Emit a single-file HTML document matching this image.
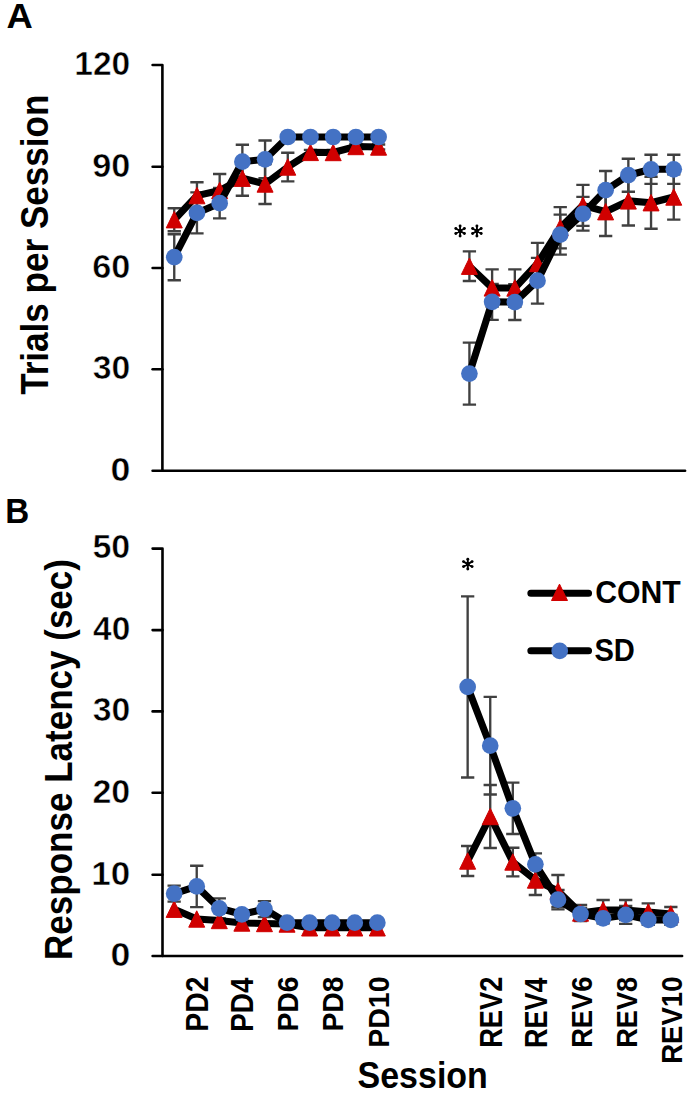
<!DOCTYPE html>
<html><head><meta charset="utf-8"><title>Chart</title>
<style>
html,body{margin:0;padding:0;background:#fff;}
body{width:700px;height:1094px;overflow:hidden;}
svg{display:block;}
.t{font-family:"Liberation Sans",sans-serif;font-weight:bold;fill:#000;}
.tn{stroke:#fff;stroke-width:0.5px;}
</style></head><body>
<svg width="700" height="1094" viewBox="0 0 700 1094">
<rect width="700" height="1094" fill="#fff"/>
<path d="M152.6 65H162.4V470.7H685.1" stroke="#000" stroke-width="2.6" fill="none" stroke-linejoin="round" stroke-linecap="round"/>
<path d="M152.6 166.7H162.4" stroke="#000" stroke-width="2.6" stroke-linecap="round"/>
<path d="M152.6 268H162.4" stroke="#000" stroke-width="2.6" stroke-linecap="round"/>
<path d="M152.6 369.3H162.4" stroke="#000" stroke-width="2.6" stroke-linecap="round"/>
<path d="M152.6 470.7H162.4" stroke="#000" stroke-width="2.6" stroke-linecap="round"/>
<path d="M152.6 548.6H162.5V956H682.1" stroke="#000" stroke-width="2.6" fill="none" stroke-linejoin="round" stroke-linecap="round"/>
<path d="M152.6 630.1H162.5" stroke="#000" stroke-width="2.6" stroke-linecap="round"/>
<path d="M152.6 711.4H162.5" stroke="#000" stroke-width="2.6" stroke-linecap="round"/>
<path d="M152.6 792.8H162.5" stroke="#000" stroke-width="2.6" stroke-linecap="round"/>
<path d="M152.6 874.7H162.5" stroke="#000" stroke-width="2.6" stroke-linecap="round"/>
<path d="M152.6 956H162.5" stroke="#000" stroke-width="2.6" stroke-linecap="round"/>
<text transform="translate(6.49 27.5) scale(1.0125 0.9939)" font-size="36" class="t">A</text>
<text transform="translate(5.37 522.5) scale(0.9488 1.0125)" font-size="35" class="t">B</text>
<text transform="translate(74.24 74.85) scale(1.0505 1.0318)" font-size="32" class="t tn">120</text>
<text transform="translate(92.19 176.55) scale(1.0708 1.0318)" font-size="32" class="t tn">90</text>
<text transform="translate(92.19 277.85) scale(1.0708 1.0318)" font-size="32" class="t tn">60</text>
<text transform="translate(92.75 379.15) scale(1.0545 1.0318)" font-size="32" class="t tn">30</text>
<text transform="translate(110.42 480.55) scale(1.1186 1.0318)" font-size="32" class="t tn">0</text>
<text transform="translate(92.47 558.45) scale(1.0626 1.0318)" font-size="32" class="t tn">50</text>
<text transform="translate(93.02 639.95) scale(1.0466 1.0318)" font-size="32" class="t tn">40</text>
<text transform="translate(92.75 721.25) scale(1.0545 1.0318)" font-size="32" class="t tn">30</text>
<text transform="translate(92.47 802.65) scale(1.0626 1.0318)" font-size="32" class="t tn">20</text>
<text transform="translate(91.33 884.55) scale(1.0961 1.0318)" font-size="32" class="t tn">10</text>
<text transform="translate(110.42 965.85) scale(1.1186 1.0318)" font-size="32" class="t tn">0</text>
<text transform="translate(48.35 394.76) rotate(-90) scale(0.9231 1.0128)" font-size="38" class="t">Trials per Session</text>
<text transform="translate(71.7 960) rotate(-90) scale(0.9219 1.0326)" font-size="38" class="t">Response Latency (sec)</text>
<text transform="translate(595.16 602.65) scale(0.9900 1.0000)" font-size="30.5" class="t">CONT</text>
<text transform="translate(594.44 661.44) scale(0.9550 1.0372)" font-size="30.5" class="t">SD</text>
<text transform="translate(357.56 1088.14) scale(0.9440 1.0476)" font-size="36" class="t">Session</text>
<text transform="translate(208.13 1031.63) rotate(-90) scale(0.9158 0.9907)" font-size="31" class="t">PD2</text>
<text transform="translate(253.3 1031.7) rotate(-90) scale(0.8979 1.0024)" font-size="31" class="t">PD4</text>
<text transform="translate(298.23 1031.62) rotate(-90) scale(0.9118 0.9793)" font-size="31" class="t">PD6</text>
<text transform="translate(343.41 1031.62) rotate(-90) scale(0.9118 0.9793)" font-size="31" class="t">PD8</text>
<text transform="translate(388.58 1047.74) rotate(-90) scale(0.9199 0.9793)" font-size="31" class="t">PD10</text>
<text transform="translate(501.76 1047.86) rotate(-90) scale(0.8810 0.9907)" font-size="31" class="t">REV2</text>
<text transform="translate(546.93 1047.94) rotate(-90) scale(0.8711 1.0024)" font-size="31" class="t">REV4</text>
<text transform="translate(591.86 1047.86) rotate(-90) scale(0.8810 0.9793)" font-size="31" class="t">REV6</text>
<text transform="translate(637.04 1047.86) rotate(-90) scale(0.8782 0.9793)" font-size="31" class="t">REV8</text>
<text transform="translate(682.21 1063.78) rotate(-90) scale(0.8884 0.9793)" font-size="31" class="t">REV10</text>
<path d="M174.25 208.2V231.2M167.6 208.2H180.9M167.6 231.2H180.9" stroke="#404040" stroke-width="2.35" fill="none"/>
<path d="M196.95 182.2V209M190.3 182.2H203.6M190.3 209H203.6" stroke="#404040" stroke-width="2.35" fill="none"/>
<path d="M219.66 174V207M213.01 174H226.31M213.01 207H226.31" stroke="#404040" stroke-width="2.35" fill="none"/>
<path d="M242.37 160.7V195.7M235.72 160.7H249.02M235.72 195.7H249.02" stroke="#404040" stroke-width="2.35" fill="none"/>
<path d="M265.07 164V204M258.42 164H271.72M258.42 204H271.72" stroke="#404040" stroke-width="2.35" fill="none"/>
<path d="M287.77 152.7V181.3M281.12 152.7H294.42M281.12 181.3H294.42" stroke="#404040" stroke-width="2.35" fill="none"/>
<path d="M310.48 149.9V154.9M303.83 149.9H317.13M303.83 154.9H317.13" stroke="#404040" stroke-width="2.35" fill="none"/>
<path d="M333.19 150V155M326.54 150H339.83M326.54 155H339.83" stroke="#404040" stroke-width="2.35" fill="none"/>
<path d="M355.89 144V149M349.24 144H362.54M349.24 149H362.54" stroke="#404040" stroke-width="2.35" fill="none"/>
<path d="M378.59 144.5V149.5M371.94 144.5H385.24M371.94 149.5H385.24" stroke="#404040" stroke-width="2.35" fill="none"/>
<path d="M469.41 251.4V281M462.76 251.4H476.06M462.76 281H476.06" stroke="#404040" stroke-width="2.35" fill="none"/>
<path d="M492.12 269.3V306.5M485.47 269.3H498.77M485.47 306.5H498.77" stroke="#404040" stroke-width="2.35" fill="none"/>
<path d="M514.83 269.3V306.7M508.18 269.3H521.48M508.18 306.7H521.48" stroke="#404040" stroke-width="2.35" fill="none"/>
<path d="M537.53 242.9V284.1M530.88 242.9H544.18M530.88 284.1H544.18" stroke="#404040" stroke-width="2.35" fill="none"/>
<path d="M560.23 207.1V248.3M553.58 207.1H566.88M553.58 248.3H566.88" stroke="#404040" stroke-width="2.35" fill="none"/>
<path d="M582.94 184.9V225.9M576.29 184.9H589.59M576.29 225.9H589.59" stroke="#404040" stroke-width="2.35" fill="none"/>
<path d="M605.64 187.4V236M599 187.4H612.29M599 236H612.29" stroke="#404040" stroke-width="2.35" fill="none"/>
<path d="M628.35 176.3V225.5M621.7 176.3H635M621.7 225.5H635" stroke="#404040" stroke-width="2.35" fill="none"/>
<path d="M651.05 176.7V228.7M644.4 176.7H657.7M644.4 228.7H657.7" stroke="#404040" stroke-width="2.35" fill="none"/>
<path d="M673.76 174.4V219.6M667.11 174.4H680.41M667.11 219.6H680.41" stroke="#404040" stroke-width="2.35" fill="none"/>
<path d="M174.25 234.2V280.2M167.6 234.2H180.9M167.6 280.2H180.9" stroke="#404040" stroke-width="2.35" fill="none"/>
<path d="M196.95 192.4V233.4M190.3 192.4H203.6M190.3 233.4H203.6" stroke="#404040" stroke-width="2.35" fill="none"/>
<path d="M219.66 188V218.4M213.01 188H226.31M213.01 218.4H226.31" stroke="#404040" stroke-width="2.35" fill="none"/>
<path d="M242.37 144.7V178.7M235.72 144.7H249.02M235.72 178.7H249.02" stroke="#404040" stroke-width="2.35" fill="none"/>
<path d="M265.07 140.5V178.1M258.42 140.5H271.72M258.42 178.1H271.72" stroke="#404040" stroke-width="2.35" fill="none"/>
<path d="M287.77 133V141M281.12 133H294.42M281.12 141H294.42" stroke="#404040" stroke-width="2.35" fill="none"/>
<path d="M310.48 135V139M303.83 135H317.13M303.83 139H317.13" stroke="#404040" stroke-width="2.35" fill="none"/>
<path d="M333.19 135V139M326.54 135H339.83M326.54 139H339.83" stroke="#404040" stroke-width="2.35" fill="none"/>
<path d="M355.89 135V139M349.24 135H362.54M349.24 139H362.54" stroke="#404040" stroke-width="2.35" fill="none"/>
<path d="M378.59 135V139M371.94 135H385.24M371.94 139H385.24" stroke="#404040" stroke-width="2.35" fill="none"/>
<path d="M469.41 342.6V404.6M462.76 342.6H476.06M462.76 404.6H476.06" stroke="#404040" stroke-width="2.35" fill="none"/>
<path d="M492.12 283.8V319.8M485.47 283.8H498.77M485.47 319.8H498.77" stroke="#404040" stroke-width="2.35" fill="none"/>
<path d="M514.83 284.2V320M508.18 284.2H521.48M508.18 320H521.48" stroke="#404040" stroke-width="2.35" fill="none"/>
<path d="M537.53 257.8V303.6M530.88 257.8H544.18M530.88 303.6H544.18" stroke="#404040" stroke-width="2.35" fill="none"/>
<path d="M560.23 214.6V254.6M553.58 214.6H566.88M553.58 254.6H566.88" stroke="#404040" stroke-width="2.35" fill="none"/>
<path d="M582.94 196.85V230.65M576.29 196.85H589.59M576.29 230.65H589.59" stroke="#404040" stroke-width="2.35" fill="none"/>
<path d="M605.64 171V209.4M599 171H612.29M599 209.4H612.29" stroke="#404040" stroke-width="2.35" fill="none"/>
<path d="M628.35 158.7V191.7M621.7 158.7H635M621.7 191.7H635" stroke="#404040" stroke-width="2.35" fill="none"/>
<path d="M651.05 154.7V183.9M644.4 154.7H657.7M644.4 183.9H657.7" stroke="#404040" stroke-width="2.35" fill="none"/>
<path d="M673.76 154.7V183.9M667.11 154.7H680.41M667.11 183.9H680.41" stroke="#404040" stroke-width="2.35" fill="none"/>
<path d="M174.25 219.7 L196.95 195.6 L219.66 190.5 L242.37 178.2 L265.07 184 L287.77 167 L310.48 152.4 L333.19 152.5 L355.89 146.5 L378.59 147M469.41 266.2 L492.12 287.9 L514.83 288 L537.53 263.5 L560.23 227.7 L582.94 205.4 L605.64 211.7 L628.35 200.9 L651.05 202.7 L673.76 197" stroke="#000" stroke-width="7.1" fill="none" stroke-linejoin="round" stroke-linecap="round"/>
<path d="M166.25 227.9L182.25 227.9L174.25 211.5Z" fill="#D00000" stroke="#D00000" stroke-width="1" stroke-linejoin="round"/>
<path d="M188.95 203.8L204.95 203.8L196.95 187.4Z" fill="#D00000" stroke="#D00000" stroke-width="1" stroke-linejoin="round"/>
<path d="M211.66 198.7L227.66 198.7L219.66 182.3Z" fill="#D00000" stroke="#D00000" stroke-width="1" stroke-linejoin="round"/>
<path d="M234.37 186.4L250.37 186.4L242.37 170Z" fill="#D00000" stroke="#D00000" stroke-width="1" stroke-linejoin="round"/>
<path d="M257.07 192.2L273.07 192.2L265.07 175.8Z" fill="#D00000" stroke="#D00000" stroke-width="1" stroke-linejoin="round"/>
<path d="M279.77 175.2L295.77 175.2L287.77 158.8Z" fill="#D00000" stroke="#D00000" stroke-width="1" stroke-linejoin="round"/>
<path d="M302.48 160.6L318.48 160.6L310.48 144.2Z" fill="#D00000" stroke="#D00000" stroke-width="1" stroke-linejoin="round"/>
<path d="M325.19 160.7L341.19 160.7L333.19 144.3Z" fill="#D00000" stroke="#D00000" stroke-width="1" stroke-linejoin="round"/>
<path d="M347.89 154.7L363.89 154.7L355.89 138.3Z" fill="#D00000" stroke="#D00000" stroke-width="1" stroke-linejoin="round"/>
<path d="M370.59 155.2L386.59 155.2L378.59 138.8Z" fill="#D00000" stroke="#D00000" stroke-width="1" stroke-linejoin="round"/>
<path d="M461.41 274.4L477.41 274.4L469.41 258Z" fill="#D00000" stroke="#D00000" stroke-width="1" stroke-linejoin="round"/>
<path d="M484.12 296.1L500.12 296.1L492.12 279.7Z" fill="#D00000" stroke="#D00000" stroke-width="1" stroke-linejoin="round"/>
<path d="M506.83 296.2L522.83 296.2L514.83 279.8Z" fill="#D00000" stroke="#D00000" stroke-width="1" stroke-linejoin="round"/>
<path d="M529.53 271.7L545.53 271.7L537.53 255.3Z" fill="#D00000" stroke="#D00000" stroke-width="1" stroke-linejoin="round"/>
<path d="M552.23 235.9L568.23 235.9L560.23 219.5Z" fill="#D00000" stroke="#D00000" stroke-width="1" stroke-linejoin="round"/>
<path d="M574.94 213.6L590.94 213.6L582.94 197.2Z" fill="#D00000" stroke="#D00000" stroke-width="1" stroke-linejoin="round"/>
<path d="M597.64 219.9L613.64 219.9L605.64 203.5Z" fill="#D00000" stroke="#D00000" stroke-width="1" stroke-linejoin="round"/>
<path d="M620.35 209.1L636.35 209.1L628.35 192.7Z" fill="#D00000" stroke="#D00000" stroke-width="1" stroke-linejoin="round"/>
<path d="M643.05 210.9L659.05 210.9L651.05 194.5Z" fill="#D00000" stroke="#D00000" stroke-width="1" stroke-linejoin="round"/>
<path d="M665.76 205.2L681.76 205.2L673.76 188.8Z" fill="#D00000" stroke="#D00000" stroke-width="1" stroke-linejoin="round"/>
<path d="M174.25 257.2 L196.95 212.9 L219.66 203.2 L242.37 161.7 L265.07 159.3 L287.77 137 L310.48 137 L333.19 137 L355.89 137 L378.59 137M469.41 373.6 L492.12 301.8 L514.83 302.1 L537.53 280.7 L560.23 234.6 L582.94 213.75 L605.64 190.2 L628.35 175.2 L651.05 169.3 L673.76 169.3" stroke="#000" stroke-width="7.1" fill="none" stroke-linejoin="round" stroke-linecap="round"/>
<circle cx="174.25" cy="257.2" r="8.35" fill="#4472C4"/>
<circle cx="196.95" cy="212.9" r="8.35" fill="#4472C4"/>
<circle cx="219.66" cy="203.2" r="8.35" fill="#4472C4"/>
<circle cx="242.37" cy="161.7" r="8.35" fill="#4472C4"/>
<circle cx="265.07" cy="159.3" r="8.35" fill="#4472C4"/>
<circle cx="287.77" cy="137" r="8.35" fill="#4472C4"/>
<circle cx="310.48" cy="137" r="8.35" fill="#4472C4"/>
<circle cx="333.19" cy="137" r="8.35" fill="#4472C4"/>
<circle cx="355.89" cy="137" r="8.35" fill="#4472C4"/>
<circle cx="378.59" cy="137" r="8.35" fill="#4472C4"/>
<circle cx="469.41" cy="373.6" r="8.35" fill="#4472C4"/>
<circle cx="492.12" cy="301.8" r="8.35" fill="#4472C4"/>
<circle cx="514.83" cy="302.1" r="8.35" fill="#4472C4"/>
<circle cx="537.53" cy="280.7" r="8.35" fill="#4472C4"/>
<circle cx="560.23" cy="234.6" r="8.35" fill="#4472C4"/>
<circle cx="582.94" cy="213.75" r="8.35" fill="#4472C4"/>
<circle cx="605.64" cy="190.2" r="8.35" fill="#4472C4"/>
<circle cx="628.35" cy="175.2" r="8.35" fill="#4472C4"/>
<circle cx="651.05" cy="169.3" r="8.35" fill="#4472C4"/>
<circle cx="673.76" cy="169.3" r="8.35" fill="#4472C4"/>










<path d="M467.65 846V876M461 846H474.3M461 876H474.3" stroke="#404040" stroke-width="2.35" fill="none"/>
<path d="M490.23 785V848M483.58 785H496.88M483.58 848H496.88" stroke="#404040" stroke-width="2.35" fill="none"/>
<path d="M512.81 847.7V876.3M506.16 847.7H519.46M506.16 876.3H519.46" stroke="#404040" stroke-width="2.35" fill="none"/>
<path d="M535.38 865V895M528.73 865H542.03M528.73 895H542.03" stroke="#404040" stroke-width="2.35" fill="none"/>
<path d="M557.96 875V907M551.31 875H564.61M551.31 907H564.61" stroke="#404040" stroke-width="2.35" fill="none"/>
<path d="M580.54 905V921M573.89 905H587.19M573.89 921H587.19" stroke="#404040" stroke-width="2.35" fill="none"/>
<path d="M603.11 900V920M596.46 900H609.76M596.46 920H609.76" stroke="#404040" stroke-width="2.35" fill="none"/>
<path d="M625.69 900V920M619.04 900H632.34M619.04 920H632.34" stroke="#404040" stroke-width="2.35" fill="none"/>
<path d="M648.27 903.4V920.6M641.62 903.4H654.92M641.62 920.6H654.92" stroke="#404040" stroke-width="2.35" fill="none"/>
<path d="M670.84 907V921M664.19 907H677.49M664.19 921H677.49" stroke="#404040" stroke-width="2.35" fill="none"/>
<path d="M174.15 885.6V901.6M167.5 885.6H180.8M167.5 901.6H180.8" stroke="#404040" stroke-width="2.35" fill="none"/>
<path d="M196.73 865.7V907.1M190.08 865.7H203.38M190.08 907.1H203.38" stroke="#404040" stroke-width="2.35" fill="none"/>
<path d="M219.3 898.3V918.3M212.65 898.3H225.95M212.65 918.3H225.95" stroke="#404040" stroke-width="2.35" fill="none"/>
<path d="M241.88 910.3V918.3M235.23 910.3H248.53M235.23 918.3H248.53" stroke="#404040" stroke-width="2.35" fill="none"/>
<path d="M264.46 901.1V917.1M257.81 901.1H271.11M257.81 917.1H271.11" stroke="#404040" stroke-width="2.35" fill="none"/>
<path d="M287.04 920.7V924.7M280.39 920.7H293.69M280.39 924.7H293.69" stroke="#404040" stroke-width="2.35" fill="none"/>
<path d="M309.61 920.7V924.7M302.96 920.7H316.26M302.96 924.7H316.26" stroke="#404040" stroke-width="2.35" fill="none"/>
<path d="M332.19 920.7V924.7M325.54 920.7H338.84M325.54 924.7H338.84" stroke="#404040" stroke-width="2.35" fill="none"/>
<path d="M354.77 920.7V924.7M348.12 920.7H361.42M348.12 924.7H361.42" stroke="#404040" stroke-width="2.35" fill="none"/>
<path d="M377.34 920.7V924.7M370.69 920.7H383.99M370.69 924.7H383.99" stroke="#404040" stroke-width="2.35" fill="none"/>
<path d="M467.65 596.3V777.5M461 596.3H474.3M461 777.5H474.3" stroke="#404040" stroke-width="2.35" fill="none"/>
<path d="M490.23 696.9V794.5M483.58 696.9H496.88M483.58 794.5H496.88" stroke="#404040" stroke-width="2.35" fill="none"/>
<path d="M512.81 782.6V834M506.16 782.6H519.46M506.16 834H519.46" stroke="#404040" stroke-width="2.35" fill="none"/>
<path d="M535.38 853.4V875.2M528.73 853.4H542.03M528.73 875.2H542.03" stroke="#404040" stroke-width="2.35" fill="none"/>
<path d="M557.96 890V909.4M551.31 890H564.61M551.31 909.4H564.61" stroke="#404040" stroke-width="2.35" fill="none"/>
<path d="M580.54 908V920M573.89 908H587.19M573.89 920H587.19" stroke="#404040" stroke-width="2.35" fill="none"/>
<path d="M603.11 913.3V923.3M596.46 913.3H609.76M596.46 923.3H609.76" stroke="#404040" stroke-width="2.35" fill="none"/>
<path d="M625.69 905.9V923.9M619.04 905.9H632.34M619.04 923.9H632.34" stroke="#404040" stroke-width="2.35" fill="none"/>
<path d="M648.27 914.9V924.9M641.62 914.9H654.92M641.62 924.9H654.92" stroke="#404040" stroke-width="2.35" fill="none"/>
<path d="M670.84 914.9V924.9M664.19 914.9H677.49M664.19 924.9H677.49" stroke="#404040" stroke-width="2.35" fill="none"/>
<path d="M174.15 909.2 L196.73 919 L219.3 920.5 L241.88 923 L264.46 923.5 L287.04 924 L309.61 927.8 L332.19 927.8 L354.77 927.8 L377.34 927.8M467.65 861 L490.23 816.5 L512.81 862 L535.38 880 L557.96 891 L580.54 913 L603.11 910 L625.69 910 L648.27 912 L670.84 914" stroke="#000" stroke-width="7.1" fill="none" stroke-linejoin="round" stroke-linecap="round"/>
<path d="M166.15 917.4L182.15 917.4L174.15 901Z" fill="#D00000" stroke="#D00000" stroke-width="1" stroke-linejoin="round"/>
<path d="M188.73 927.2L204.73 927.2L196.73 910.8Z" fill="#D00000" stroke="#D00000" stroke-width="1" stroke-linejoin="round"/>
<path d="M211.3 928.7L227.3 928.7L219.3 912.3Z" fill="#D00000" stroke="#D00000" stroke-width="1" stroke-linejoin="round"/>
<path d="M233.88 931.2L249.88 931.2L241.88 914.8Z" fill="#D00000" stroke="#D00000" stroke-width="1" stroke-linejoin="round"/>
<path d="M256.46 931.7L272.46 931.7L264.46 915.3Z" fill="#D00000" stroke="#D00000" stroke-width="1" stroke-linejoin="round"/>
<path d="M279.04 932.2L295.04 932.2L287.04 915.8Z" fill="#D00000" stroke="#D00000" stroke-width="1" stroke-linejoin="round"/>
<path d="M301.61 936L317.61 936L309.61 919.6Z" fill="#D00000" stroke="#D00000" stroke-width="1" stroke-linejoin="round"/>
<path d="M324.19 936L340.19 936L332.19 919.6Z" fill="#D00000" stroke="#D00000" stroke-width="1" stroke-linejoin="round"/>
<path d="M346.77 936L362.77 936L354.77 919.6Z" fill="#D00000" stroke="#D00000" stroke-width="1" stroke-linejoin="round"/>
<path d="M369.34 936L385.34 936L377.34 919.6Z" fill="#D00000" stroke="#D00000" stroke-width="1" stroke-linejoin="round"/>
<path d="M459.65 869.2L475.65 869.2L467.65 852.8Z" fill="#D00000" stroke="#D00000" stroke-width="1" stroke-linejoin="round"/>
<path d="M482.23 824.7L498.23 824.7L490.23 808.3Z" fill="#D00000" stroke="#D00000" stroke-width="1" stroke-linejoin="round"/>
<path d="M504.81 870.2L520.81 870.2L512.81 853.8Z" fill="#D00000" stroke="#D00000" stroke-width="1" stroke-linejoin="round"/>
<path d="M527.38 888.2L543.38 888.2L535.38 871.8Z" fill="#D00000" stroke="#D00000" stroke-width="1" stroke-linejoin="round"/>
<path d="M549.96 899.2L565.96 899.2L557.96 882.8Z" fill="#D00000" stroke="#D00000" stroke-width="1" stroke-linejoin="round"/>
<path d="M572.54 921.2L588.54 921.2L580.54 904.8Z" fill="#D00000" stroke="#D00000" stroke-width="1" stroke-linejoin="round"/>
<path d="M595.11 918.2L611.11 918.2L603.11 901.8Z" fill="#D00000" stroke="#D00000" stroke-width="1" stroke-linejoin="round"/>
<path d="M617.69 918.2L633.69 918.2L625.69 901.8Z" fill="#D00000" stroke="#D00000" stroke-width="1" stroke-linejoin="round"/>
<path d="M640.27 920.2L656.27 920.2L648.27 903.8Z" fill="#D00000" stroke="#D00000" stroke-width="1" stroke-linejoin="round"/>
<path d="M662.84 922.2L678.84 922.2L670.84 905.8Z" fill="#D00000" stroke="#D00000" stroke-width="1" stroke-linejoin="round"/>
<path d="M174.15 893.6 L196.73 886.4 L219.3 908.3 L241.88 914.3 L264.46 909.1 L287.04 922.7 L309.61 922.7 L332.19 922.7 L354.77 922.7 L377.34 922.7M467.65 686.9 L490.23 745.7 L512.81 808.3 L535.38 864.3 L557.96 899.7 L580.54 914 L603.11 918.3 L625.69 914.9 L648.27 919.9 L670.84 919.9" stroke="#000" stroke-width="7.1" fill="none" stroke-linejoin="round" stroke-linecap="round"/>
<circle cx="174.15" cy="893.6" r="8.35" fill="#4472C4"/>
<circle cx="196.73" cy="886.4" r="8.35" fill="#4472C4"/>
<circle cx="219.3" cy="908.3" r="8.35" fill="#4472C4"/>
<circle cx="241.88" cy="914.3" r="8.35" fill="#4472C4"/>
<circle cx="264.46" cy="909.1" r="8.35" fill="#4472C4"/>
<circle cx="287.04" cy="922.7" r="8.35" fill="#4472C4"/>
<circle cx="309.61" cy="922.7" r="8.35" fill="#4472C4"/>
<circle cx="332.19" cy="922.7" r="8.35" fill="#4472C4"/>
<circle cx="354.77" cy="922.7" r="8.35" fill="#4472C4"/>
<circle cx="377.34" cy="922.7" r="8.35" fill="#4472C4"/>
<circle cx="467.65" cy="686.9" r="8.35" fill="#4472C4"/>
<circle cx="490.23" cy="745.7" r="8.35" fill="#4472C4"/>
<circle cx="512.81" cy="808.3" r="8.35" fill="#4472C4"/>
<circle cx="535.38" cy="864.3" r="8.35" fill="#4472C4"/>
<circle cx="557.96" cy="899.7" r="8.35" fill="#4472C4"/>
<circle cx="580.54" cy="914" r="8.35" fill="#4472C4"/>
<circle cx="603.11" cy="918.3" r="8.35" fill="#4472C4"/>
<circle cx="625.69" cy="914.9" r="8.35" fill="#4472C4"/>
<circle cx="648.27" cy="919.9" r="8.35" fill="#4472C4"/>
<circle cx="670.84" cy="919.9" r="8.35" fill="#4472C4"/>
<path d="M460.1 226.05L460.1 235.95M455.81 228.53L464.39 233.47M464.39 228.53L455.81 233.47" stroke="#000" stroke-width="1.9" stroke-linecap="round" fill="none"/><circle cx="460.1" cy="226.05" r="1.45" fill="#000"/><circle cx="460.1" cy="235.95" r="1.45" fill="#000"/><circle cx="455.81" cy="228.53" r="1.45" fill="#000"/><circle cx="464.39" cy="233.47" r="1.45" fill="#000"/><circle cx="464.39" cy="228.53" r="1.45" fill="#000"/><circle cx="455.81" cy="233.47" r="1.45" fill="#000"/><circle cx="460.1" cy="231" r="2.2" fill="#000"/>
<path d="M476.9 226.05L476.9 235.95M472.61 228.53L481.19 233.47M481.19 228.53L472.61 233.47" stroke="#000" stroke-width="1.9" stroke-linecap="round" fill="none"/><circle cx="476.9" cy="226.05" r="1.45" fill="#000"/><circle cx="476.9" cy="235.95" r="1.45" fill="#000"/><circle cx="472.61" cy="228.53" r="1.45" fill="#000"/><circle cx="481.19" cy="233.47" r="1.45" fill="#000"/><circle cx="481.19" cy="228.53" r="1.45" fill="#000"/><circle cx="472.61" cy="233.47" r="1.45" fill="#000"/><circle cx="476.9" cy="231" r="2.2" fill="#000"/>
<path d="M467.8 559.15L467.8 569.05M463.51 561.62L472.09 566.58M472.09 561.62L463.51 566.58" stroke="#000" stroke-width="1.9" stroke-linecap="round" fill="none"/><circle cx="467.8" cy="559.15" r="1.45" fill="#000"/><circle cx="467.8" cy="569.05" r="1.45" fill="#000"/><circle cx="463.51" cy="561.62" r="1.45" fill="#000"/><circle cx="472.09" cy="566.58" r="1.45" fill="#000"/><circle cx="472.09" cy="561.62" r="1.45" fill="#000"/><circle cx="463.51" cy="566.58" r="1.45" fill="#000"/><circle cx="467.8" cy="564.1" r="2.2" fill="#000"/>
<path d="M530.9 593.2H588.5M530.9 650.8H588.5" stroke="#000" stroke-width="7.1" stroke-linecap="round"/>
<path d="M551.5 600.5L567.5 600.5L559.5 584.1Z" fill="#D00000" stroke="#D00000" stroke-width="1" stroke-linejoin="round"/>
<circle cx="559.7" cy="650.9" r="8.35" fill="#4472C4"/>
</svg>
</body></html>
